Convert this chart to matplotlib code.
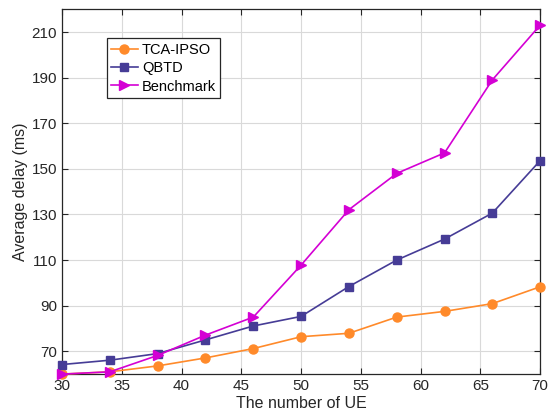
import matplotlib.pyplot as plt
import numpy as np

plt.rcParams['font.family'] = ['Liberation Sans', 'DejaVu Sans']

ue = [30, 34, 38, 42, 46, 50, 54, 58, 62, 66, 70]
tca = [60.0, 61.0, 63.6, 67.1, 71.2, 76.4, 77.9, 85.0, 87.5, 90.9, 98.3]
qbtd = [64.2, 66.1, 69.0, 75.0, 81.1, 85.3, 98.4, 110.0, 119.2, 130.6, 153.6]
bench = [60.0, 61.0, 68.2, 77.1, 85.0, 107.8, 132.1, 148.0, 157.0, 189.0, 213.0]

fig = plt.figure(figsize=(5.54, 4.18), dpi=100)
ax = fig.add_axes([0.112, 0.105, 0.863, 0.873])

ax.plot(ue, tca, '-o', color='#FF8A2A', lw=1.2, ms=6.5, label='TCA-IPSO', clip_on=False, zorder=3)
ax.plot(ue, qbtd, '-s', color='#463C96', lw=1.2, ms=5.5, label='QBTD', clip_on=False, zorder=3)
ax.plot(ue, bench, '->', color='#D400D4', lw=1.2, ms=7, label='Benchmark', clip_on=False, zorder=4)

ax.set_xlim(30, 70)
ax.set_ylim(60, 220)
ax.set_xticks(np.arange(30, 71, 5))
ax.set_yticks(np.arange(70, 211, 20))
ax.grid(True, color='#D9D9D9', lw=0.8)
ax.set_axisbelow(True)
ax.tick_params(direction='in', top=True, right=True, labelsize=11, length=4, color='#262626', labelcolor='#262626')
for s in ax.spines.values():
    s.set_color('#262626')
    s.set_linewidth(0.9)

ax.set_xlabel('The number of UE', fontsize=11.5, color='#262626', labelpad=2)
ax.set_ylabel('Average delay (ms)', fontsize=11.5, color='#262626', labelpad=3)

leg = ax.legend(loc='upper left', bbox_to_anchor=(0.094, 0.92), fontsize=10.5, fancybox=False,
                edgecolor='#262626', framealpha=1, handlelength=1.8, handletextpad=0.3,
                borderpad=0.3, labelspacing=0.3, borderaxespad=0)
leg.get_frame().set_linewidth(0.9)

plt.savefig('out.png')
